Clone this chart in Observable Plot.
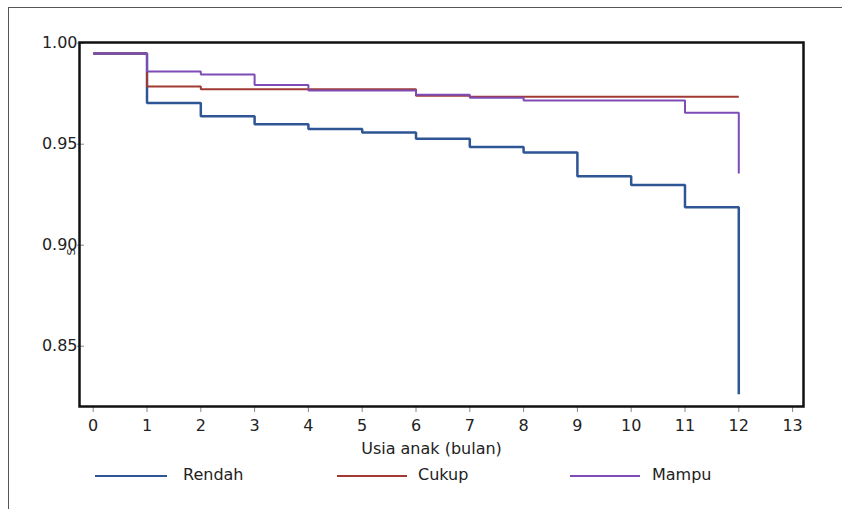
<!DOCTYPE html>
<html>
<head>
<meta charset="utf-8">
<script src="https://cdn.jsdelivr.net/npm/d3@7"></script>
<script src="https://cdn.jsdelivr.net/npm/@observablehq/plot@0.6"></script>
<style>
  html, body { margin: 0; padding: 0; background: #fff; }
  body { width: 842px; height: 509px; position: relative; overflow: hidden; font-family: "DejaVu Sans", sans-serif; }
  #outer { position: absolute; left: 8px; top: 7px; right: 0; bottom: -2px; border-left: 1.5px solid #555; border-top: 1.5px solid #555; z-index: 5; pointer-events: none; }
  #chart { position: absolute; left: 0; top: 0; }
  .leg { position: absolute; top: 465px; font-size: 16px; color: #222; height: 20px; line-height: 20px; }
  .sw { position: absolute; top: 475px; height: 2px; }
</style>
</head>
<body>
<div id="chart"></div>
<div id="legend"></div>
<div id="outer"></div>
<script>
// Kaplan-Meier survival estimates
const time   = [0, 1, 2, 3, 4, 5, 6, 7, 8, 9, 10, 11, 12];
const rendah = [0.9994, 0.9749, 0.9683, 0.9643, 0.9620, 0.9602, 0.9572, 0.9531, 0.9504, 0.9386, 0.9343, 0.9232, 0.8307];
const cukup  = [0.9994, 0.9830, 0.9817, 0.9817, 0.9817, 0.9817, 0.9785, 0.9780, 0.9780, 0.9780, 0.9780, 0.9780, 0.9780];
const mampu  = [0.9994, 0.9905, 0.9890, 0.9838, 0.9810, 0.9810, 0.9789, 0.9774, 0.9761, 0.9761, 0.9761, 0.9700, 0.9400];
const groups = ["Rendah", "Cukup", "Mampu"];
const colors = ["#2e5594", "#a13a33", "#7d4cb6"];
const widths = [2.5, 2, 2];
const xTicks = [0, 1, 2, 3, 4, 5, 6, 7, 8, 9, 10, 11, 12, 13];
const yTicks = [0.85, 0.90, 0.95, 1.00];
const xLabel = "Usia anak (bulan)";
const yLabel = "S";

const series = [rendah, cukup, mampu];
const data = groups.flatMap((g, i) => time.map((t, j) => ({group: g, t, s: series[i][j]})));

const lines = groups.map((g, i) =>
  Plot.line(data.filter(d => d.group === g), {
    x: "t", y: "s", curve: "step-after",
    stroke: colors[i], strokeWidth: widths[i], strokeLinejoin: "miter", strokeLinecap: "butt"
  })
);

const chart = Plot.plot({
  width: 842,
  height: 460,
  marginLeft: 79,
  marginRight: 39,
  marginTop: 42,
  marginBottom: 54,
  style: {fontFamily: "DejaVu Sans, sans-serif", fontSize: "16px", color: "#222", background: "transparent"},
  x: {domain: [-0.255, 13.203]},
  y: {domain: [0.8246, 1.0048]},
  marks: [
    Plot.axisX({ticks: xTicks, tickSize: 6, tickPadding: 7, stroke: "#888", fill: "#222", fontSize: 16, label: null, tickFormat: d => String(d)}),
    Plot.axisY({ticks: yTicks, tickSize: 7, tickPadding: 0, dx: 5, dy: -9, stroke: "#888", fill: "#222", fontSize: 16, label: null, tickFormat: d3.format(".2f")}),
    ...lines,
    Plot.frame({stroke: "#111", strokeWidth: 2.5}),
    Plot.text([xLabel], {frameAnchor: "bottom", dy: 47, dx: -10, fontSize: 16, fill: "#222"}),
    Plot.text([yLabel], {frameAnchor: "left", dx: -8, dy: 31, rotate: -90, fontSize: 11, fill: "#222"})
  ]
});
document.getElementById("chart").appendChild(chart);

// legend below the chart
const legPos = [{line: 95, w: 72, text: 183}, {line: 337, w: 70, text: 418}, {line: 570, w: 70, text: 652}];
const leg = document.getElementById("legend");
groups.forEach((g, i) => {
  const sw = document.createElement("div");
  sw.className = "sw";
  sw.style.left = legPos[i].line + "px";
  sw.style.width = legPos[i].w + "px";
  sw.style.background = colors[i];
  leg.appendChild(sw);
  const tx = document.createElement("div");
  tx.className = "leg";
  tx.style.left = legPos[i].text + "px";
  tx.textContent = g;
  leg.appendChild(tx);
});
</script>
</body>
</html>
